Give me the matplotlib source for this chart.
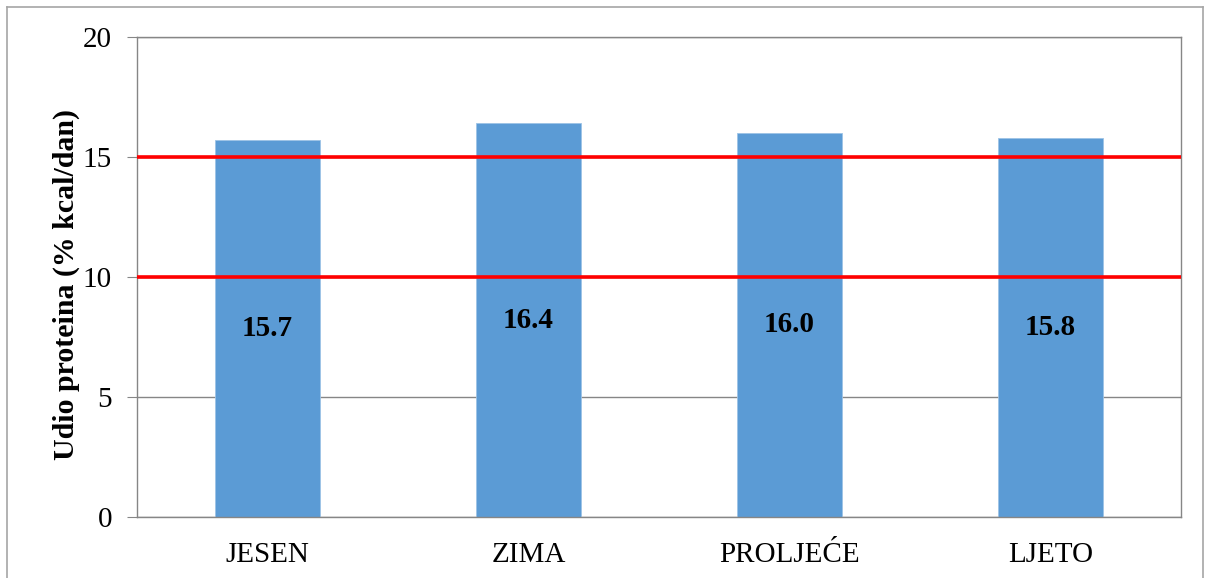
import matplotlib
matplotlib.use("Agg")
import matplotlib.pyplot as plt
from matplotlib.lines import Line2D

plt.rcParams['font.family'] = ['Liberation Serif', 'DejaVu Serif']

categories = ["JESEN", "ZIMA", "PROLJEĆE", "LJETO"]
values = [15.7, 16.4, 16.0, 15.8]
ref_lines = [10, 15]
yticks = [0, 5, 10, 15, 20]
ylabel = "Udio proteina (% kcal/dan)"

fig = plt.figure(figsize=(12.05, 5.78), dpi=100)
ax = fig.add_axes([137/1205, 1 - 517/578, (1181 - 137)/1205, (517 - 37)/578])

x = range(len(categories))
bars = ax.bar(x, values, width=0.4, color="#5B9BD5", edgecolor="#9DC3E6", linewidth=0.6, zorder=2)
for xi, v in zip(x, values):
    ax.text(xi, v / 2, f"{v:.1f}", ha="center", va="center", fontsize=21,
            fontweight="bold", color="black", zorder=4)

for r in ref_lines:
    ax.axhline(r, color="#FF0000", linewidth=2.6, zorder=3)

ax.set_xlim(-0.5, len(categories) - 0.5)
ax.set_ylim(0, 20)
ax.set_yticks(yticks)
ax.set_xticks(list(x))
ax.set_xticklabels(categories)
ax.yaxis.grid(True, color="#868686", linewidth=1.0, zorder=0)
ax.set_axisbelow(True)
for s in ax.spines.values():
    s.set_color("#868686")
    s.set_linewidth(1.0)
ax.tick_params(axis="y", length=7, color="#868686", labelsize=21, pad=11)
ax.tick_params(axis="x", length=0, labelsize=21, pad=18)
ax.set_ylabel(ylabel, fontsize=21.5, fontweight="bold", labelpad=2)
ax.yaxis.label.set_y(0.485)

# outer chart border
W, H = 1205, 578
fig.add_artist(Line2D([7/W, 7/W], [0, 1 - 7/H], color="#A6A6A6", linewidth=1.2, transform=fig.transFigure))
fig.add_artist(Line2D([7/W, 1203/W], [1 - 7/H, 1 - 7/H], color="#A6A6A6", linewidth=1.2, transform=fig.transFigure))
fig.add_artist(Line2D([1203/W, 1203/W], [0, 1 - 7/H], color="#A6A6A6", linewidth=1.2, transform=fig.transFigure))

fig.savefig("out.png", dpi=100)
